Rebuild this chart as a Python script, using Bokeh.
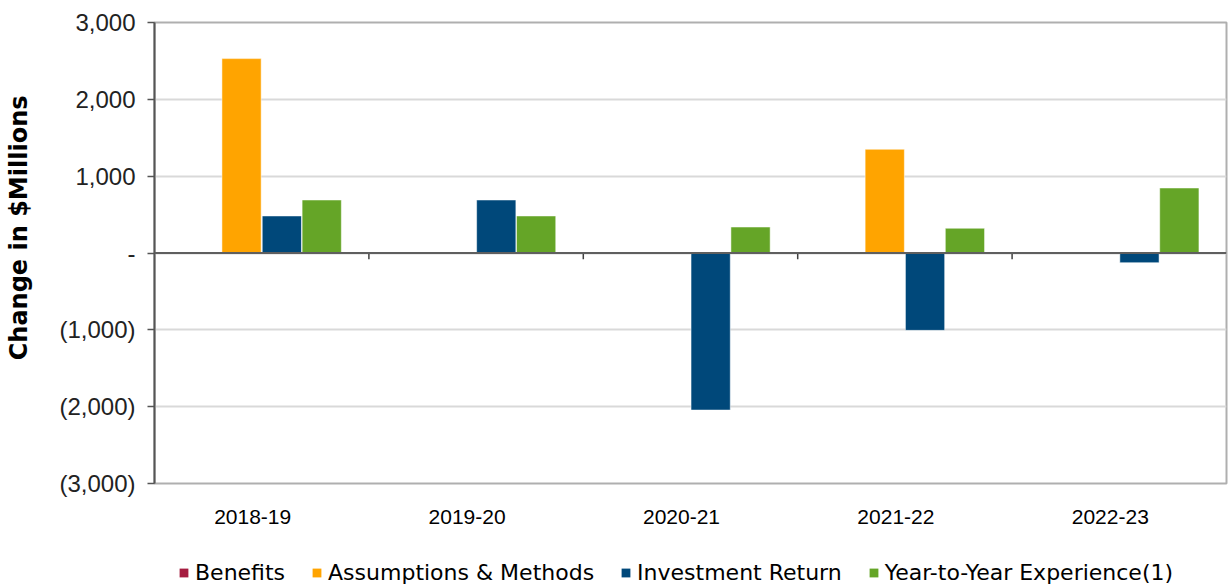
from bokeh.plotting import figure
from bokeh.models import Range1d, FixedTicker, Span, Legend, LegendItem, ColumnDataSource, Title
from bokeh.layouts import column
from bokeh.embed import file_html
from bokeh.resources import INLINE

categories = ["2018-19", "2019-20", "2020-21", "2021-22", "2022-23"]
series_names = ["Benefits", "Assumptions & Methods", "Investment Return", "Year-to-Year Experience(1)"]
benefits = [0, 0, 0, 0, 0]
assumptions = [2530, 0, 0, 1350, 0]
investment = [482, 690, -2044, -1007, -126]
experience = [690, 482, 338, 322, 846]
colors = ["#A51C40", "#FFA400", "#00487A", "#65A527"]
y_ticks = [-3000, -2000, -1000, 0, 1000, 2000, 3000]
y_tick_labels = ["(3,000)", "(2,000)", "(1,000)", "-", "1,000", "2,000", "3,000"]
y_title = "Change in $Millions"

FONT = "Liberation Sans"
LABEL_SHIFT = -0.042  # category labels sit slightly left of group centre

p = figure(width=1228, height=546, output_backend="svg", toolbar_location=None,
           x_range=Range1d(0, len(categories)), y_range=Range1d(-3000, 3000),
           min_border_left=154, min_border_right=2, min_border_top=22, min_border_bottom=63)
p.background_fill_color = "white"
p.border_fill_color = "white"
p.outline_line_color = "#AFAFAF"
p.outline_line_width = 2

bar_w = 0.183
offsets = [-0.28, -0.094, 0.094, 0.28]
all_vals = [benefits, assumptions, investment, experience]
for name, vals, col, off in zip(series_names, all_vals, colors, offsets):
    src = ColumnDataSource(dict(x=[i + 0.5 + off for i in range(len(categories))], top=vals))
    p.vbar(x="x", top="top", bottom=0, width=bar_w, source=src,
           fill_color=col, line_color="white", line_alpha=0.5, line_width=1)

# zero line with boundary ticks
p.add_layout(Span(location=0, dimension="width", line_color="#5F5F5F", line_width=2))
bounds = list(range(1, len(categories)))
p.segment(x0=bounds, x1=bounds, y0=[0] * len(bounds), y1=[-80] * len(bounds),
          line_color="#404040", line_width=1.5)

# x axis
label_pos = [i + 0.5 + LABEL_SHIFT for i in range(len(categories))]
p.xaxis.ticker = FixedTicker(ticks=label_pos)
p.xaxis.major_label_overrides = {x: c for x, c in zip(label_pos, categories)}
p.xaxis.major_tick_line_color = None
p.xaxis.minor_tick_line_color = None
p.xaxis.axis_line_color = None
p.xaxis.major_label_text_font = FONT
p.xaxis.major_label_text_font_size = "21px"
p.xaxis.major_label_text_color = "black"
p.xaxis.major_label_standoff = 20

# y axis
p.yaxis.ticker = FixedTicker(ticks=y_ticks)
p.yaxis.major_label_overrides = {t: l for t, l in zip(y_ticks, y_tick_labels)}
p.yaxis.minor_tick_line_color = None
p.yaxis.major_tick_out = 7
p.yaxis.major_tick_in = 0
p.yaxis.major_tick_line_color = "#555555"
p.yaxis.major_tick_line_width = 1.5
p.yaxis.axis_line_color = "#555555"
p.yaxis.axis_line_width = 2
p.yaxis.major_label_text_font = FONT
p.yaxis.major_label_text_font_size = "24px"
p.yaxis.major_label_text_color = "#222222"
p.yaxis.major_label_standoff = 12

# spacer between tick labels and the axis title
p.add_layout(Title(text=" ", standoff=21, text_font_size="1px"), "left")
p.add_layout(Title(text=y_title, align="right", offset=73, standoff=0,
                   text_font="DejaVu Sans", text_font_style="bold",
                   text_font_size="24px", text_color="black"), "left")

p.xgrid.grid_line_color = None
p.ygrid.grid_line_color = "#D9D9D9"
p.ygrid.grid_line_width = 2

# legend strip below the chart
lg = figure(width=1228, height=40, output_backend="svg", toolbar_location=None,
            x_range=Range1d(0, 1), y_range=Range1d(0, 1),
            min_border_left=0, min_border_right=0, min_border_top=0, min_border_bottom=0)
lg.axis.visible = False
lg.grid.visible = False
lg.outline_line_color = None
lg.background_fill_color = "white"
lg.border_fill_color = "white"
dummies = [lg.vbar(x=[0.5], top=[0], bottom=[0], width=0.0, fill_color=c, line_color=None)
           for c in colors]
legend = Legend(items=[LegendItem(label=n, renderers=[r]) for n, r in zip(series_names, dummies)],
                orientation="horizontal", location=(24, 1),
                glyph_width=11, glyph_height=11, label_standoff=6, spacing=26,
                label_text_font="DejaVu Sans", label_text_font_size="22px",
                label_text_color="black",
                border_line_color=None, background_fill_alpha=0,
                margin=0, padding=0)
lg.add_layout(legend)

layout = column(p, lg, spacing=0)
open("out.html", "w").write(file_html(layout, INLINE))
